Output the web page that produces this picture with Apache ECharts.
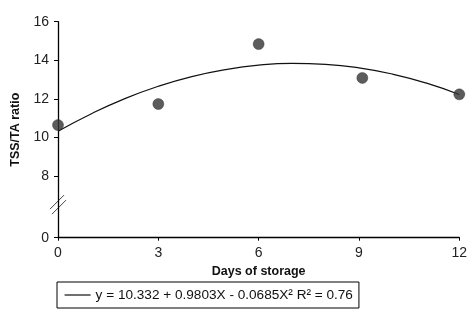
<!DOCTYPE html>
<html><head><meta charset="utf-8">
<script src="https://cdn.jsdelivr.net/npm/echarts@6/dist/echarts.min.js"></script>
<style>html,body{margin:0;padding:0;background:#fff}#c{width:472px;height:317px}</style>
</head><body><div id="c"></div>
<script>
// Observed data
const days = [0, 3, 6, 9.1, 12];
const ratio = [10.65, 11.74, 14.84, 13.09, 12.24];
// Fitted curve (y = 10.332 + 0.9803X - 0.0685X²)
const curveX = [0, 1, 2, 3, 4, 5, 6, 7, 8, 9, 10, 11, 12];
const curveY = [10.33, 11.24, 12.02, 12.66, 13.16, 13.52, 13.75, 13.84, 13.79, 13.61, 13.29, 12.83, 12.23];
const xTicks = [0, 3, 6, 9, 12];
const yTicks = [0, 8, 10, 12, 14, 16];
const curveName = 'y = 10.332 + 0.9803X - 0.0685X² R² = 0.76';

// Broken axis: values >= 8 shifted down so the 0..8 gap is compressed
const breakLow = 8, breakSpan = 3.18;
const shift = breakLow - breakSpan;
const toD = v => v >= breakLow ? v - shift : v * breakSpan / breakLow;
const fromD = d => d >= breakSpan - 1e-6 ? Math.round(d + shift) : Math.round(d * breakLow / breakSpan);

const FONT = '"Liberation Sans Narrow", "Arial Narrow", "Liberation Sans", Arial, sans-serif';
const chart = echarts.init(document.getElementById('c'), null, {renderer: 'canvas'});
chart.setOption({
  animation: false,
  grid: {left: 58, right: 12.7, top: 21.7, bottom: 79.3, containLabel: false},
  xAxis: {
    type: 'value', min: 0, max: 12, interval: 3,
    name: 'Days of storage', nameLocation: 'middle', nameGap: 26,
    nameTextStyle: {fontFamily: FONT, fontWeight: 'bold', fontSize: 12.5, color: '#111'},
    axisLine: {lineStyle: {color: '#000', width: 1.3}},
    axisTick: {show: true, length: 3, lineStyle: {color: '#000'}},
    axisLabel: {fontFamily: FONT, fontSize: 14, color: '#222', margin: 8},
    splitLine: {show: false}
  },
  yAxis: {
    type: 'value', min: 0, max: toD(16),
    name: 'TSS/TA ratio', nameLocation: 'middle', nameGap: 34, nameRotate: 90,
    nameTextStyle: {fontFamily: FONT, fontWeight: 'bold', fontSize: 12.5, color: '#111'},
    axisLine: {show: true, lineStyle: {color: '#000', width: 1.3}},
    axisTick: {show: true, length: 4, lineStyle: {color: '#000'}, customValues: yTicks.map(toD)},
    axisLabel: {fontFamily: FONT, fontSize: 14, color: '#222', margin: 9,
      customValues: yTicks.map(toD), formatter: v => String(fromD(v))},
    splitLine: {show: false}
  },
  legend: {
    left: 57, top: 282, orient: 'horizontal',
    data: [curveName],
    borderColor: '#000', borderWidth: 1, padding: [6, 6, 6, 7],
    itemWidth: 26, itemHeight: 14, itemGap: 5,
    itemStyle: {opacity: 0},
    lineStyle: {color: '#111', width: 1.2},
    textStyle: {fontFamily: FONT, fontSize: 13.6, color: '#111'}
  },
  series: [
    {
      name: curveName, type: 'line', smooth: true, symbol: 'none',
      data: curveX.map((x, i) => [x, toD(curveY[i])]),
      itemStyle: {color: '#111'},
      lineStyle: {color: '#111', width: 1.2}, z: 2
    },
    {
      name: 'obs', type: 'scatter', symbolSize: 11,
      data: days.map((x, i) => [x, toD(ratio[i])]),
      itemStyle: {color: '#333', borderColor: '#222', borderWidth: 0.5}, z: 3
    }
  ]
});
// break marks on y axis
const bp = chart.convertToPixel({gridIndex: 0}, [0, breakSpan * 0.53]);
chart.setOption({
  graphic: [
    {type: 'line', x: bp[0], y: bp[1], shape: {x1: -8, y1: 4, x2: 6, y2: -10}, style: {stroke: '#444', lineWidth: 1}},
    {type: 'line', x: bp[0], y: bp[1], shape: {x1: -6, y1: 9, x2: 8, y2: -5}, style: {stroke: '#444', lineWidth: 1}}
  ]
});
</script></body></html>
